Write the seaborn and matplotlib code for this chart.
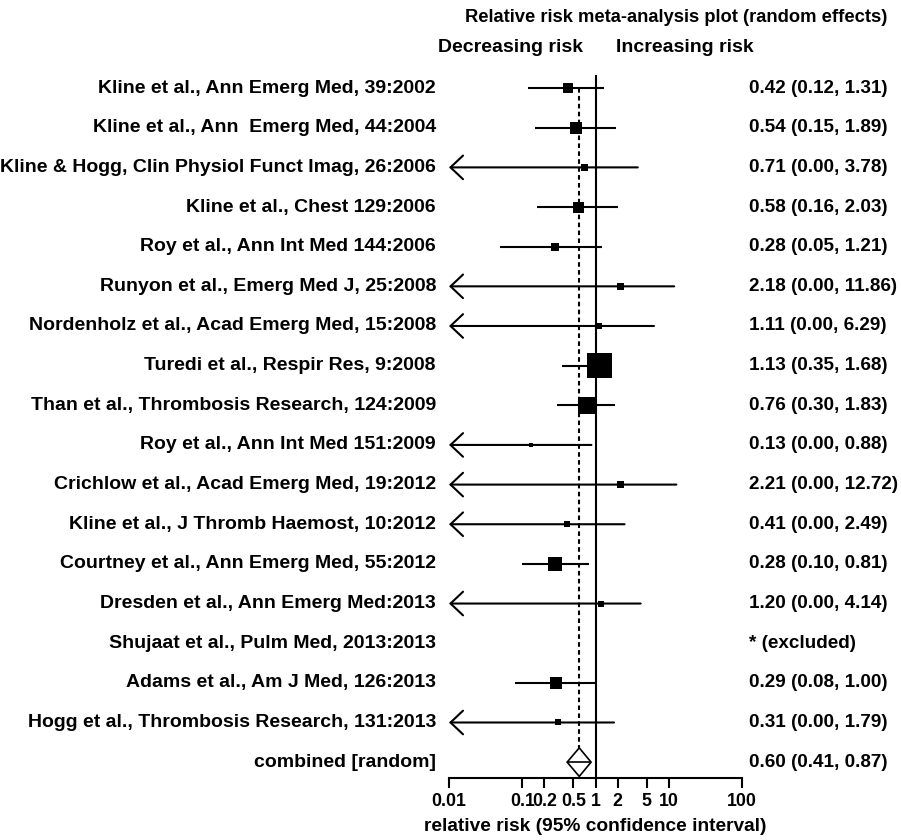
import numpy as np
import pandas as pd
import matplotlib
matplotlib.use("Agg")
import matplotlib.pyplot as plt
import seaborn as sns
from matplotlib.transforms import blended_transform_factory
from matplotlib.patches import Polygon
from matplotlib.ticker import NullLocator

# ---------------- data ----------------
studies = [
    "Kline et al., Ann Emerg Med, 39:2002",
    "Kline et al., Ann  Emerg Med, 44:2004",
    "Kline & Hogg, Clin Physiol Funct Imag, 26:2006",
    "Kline et al., Chest 129:2006",
    "Roy et al., Ann Int Med 144:2006",
    "Runyon et al., Emerg Med J, 25:2008",
    "Nordenholz et al., Acad Emerg Med, 15:2008",
    "Turedi et al., Respir Res, 9:2008",
    "Than et al., Thrombosis Research, 124:2009",
    "Roy et al., Ann Int Med 151:2009",
    "Crichlow et al., Acad Emerg Med, 19:2012",
    "Kline et al., J Thromb Haemost, 10:2012",
    "Courtney et al., Ann Emerg Med, 55:2012",
    "Dresden et al., Ann Emerg Med:2013",
    "Shujaat et al., Pulm Med, 2013:2013",
    "Adams et al., Am J Med, 126:2013",
    "Hogg et al., Thrombosis Research, 131:2013",
]
rr = [0.42, 0.54, 0.71, 0.58, 0.28, 2.18, 1.11, 1.13, 0.76, 0.13, 2.21, 0.41,
      0.28, 1.20, np.nan, 0.29, 0.31]
ci_low = [0.12, 0.15, 0.00, 0.16, 0.05, 0.00, 0.00, 0.35, 0.30, 0.00, 0.00,
          0.00, 0.10, 0.00, np.nan, 0.08, 0.00]
ci_high = [1.31, 1.89, 3.78, 2.03, 1.21, 11.86, 6.29, 1.68, 1.83, 0.88, 12.72,
           2.49, 0.81, 4.14, np.nan, 1.00, 1.79]
# relative study weight (drives the box size)
weights = [10, 12, 7, 11, 8, 7, 6, 25, 17, 4, 7, 6, 14, 6, np.nan, 12, 6]

combined_label = "combined [random]"
combined_rr = 0.60
combined_low = 0.41
combined_high = 0.87

tick_values = [0.01, 0.1, 0.2, 0.5, 1, 2, 5, 10, 100]
tick_labels = ["0.01", "0.1", "0.2", "0.5", "1", "2", "5", "10", "100"]

title = "Relative risk meta-analysis plot (random effects)"
left_header = "Decreasing risk"
right_header = "Increasing risk"
xlabel = "relative risk (95% confidence interval)"

# ---------------- styling ----------------
sns.set_theme(style="white")
plt.rcParams["font.family"] = ["Liberation Sans", "DejaVu Sans"]
plt.rcParams["font.weight"] = "bold"

FS_LAB = 14.0
FS_VAL = 13.6
FS_TICK = 12.8
FS_TITLE = 13.2
FS_HEAD = 14.0
FS_XLAB = 13.8
LW = 1.5
W, H = 901, 840

df = pd.DataFrame({"study": studies, "rr": rr, "low": ci_low,
                   "high": ci_high, "weight": weights})
df["row"] = np.arange(len(df))
combined_row = len(df)

fig = plt.figure(figsize=(W / 100, H / 100), dpi=100)
ax = fig.add_axes([449 / W, 62 / H, 293 / W, 703 / H])
ax.set_xscale("log")
xmin, xmax = tick_values[0], tick_values[-1]
ax.set_xlim(xmin, xmax)
ax.set_ylim(combined_row + 0.40, -0.33)

# reference line at 1
ax.axvline(1, color="black", lw=LW, zorder=2)

# dashed line at combined estimate
diamond_h = 0.36
ax.plot([combined_rr, combined_rr], [0, combined_row - diamond_h],
        color="black", lw=LW, ls=(0, (2.2, 1.6)), zorder=2)

valid = df.dropna(subset=["rr"])
# confidence intervals
for _, r in valid.iterrows():
    if r["low"] <= 0 or r["low"] < xmin:
        ax.annotate("", xy=(xmin, r["row"]), xytext=(r["high"], r["row"]),
                    arrowprops=dict(arrowstyle="->,head_length=0.9,head_width=0.85",
                                    lw=LW, color="black", shrinkA=0, shrinkB=0,
                                    mutation_scale=10),
                    annotation_clip=False, zorder=3)
    else:
        ax.hlines(r["row"], r["low"], r["high"], color="black", lw=LW, zorder=3)

# boxes
sizes = (valid["weight"].to_numpy() * 0.72) ** 2
sns.scatterplot(data=valid, x="rr", y="row", marker="s", s=sizes,
                color="black", linewidth=0, ax=ax, legend=False, zorder=4)

# combined diamond
diamond = Polygon([(combined_low, combined_row),
                   (combined_rr, combined_row - diamond_h),
                   (combined_high, combined_row),
                   (combined_rr, combined_row + diamond_h)],
                  closed=True, facecolor="white", edgecolor="black", lw=1.2,
                  zorder=4)
ax.add_patch(diamond)
ax.hlines(combined_row, combined_low, combined_high, color="black", lw=1.2,
          zorder=5)

# axes cosmetics
for side in ["top", "left", "right"]:
    ax.spines[side].set_visible(False)
ax.spines["bottom"].set_color("black")
ax.spines["bottom"].set_linewidth(LW)
ax.set_xticks(tick_values)
ax.set_xticklabels(tick_labels)
ax.xaxis.set_minor_locator(NullLocator())
ax.set_yticks([])
ax.tick_params(axis="x", direction="out", length=7.5, width=LW,
               colors="black", labelsize=FS_TICK, pad=3, bottom=True)
ax.set_xlabel(xlabel, fontsize=FS_XLAB, fontweight="bold", labelpad=6,
              color="black")
ax.grid(False)
ax.set_ylabel("")

# left labels and right values
trans = blended_transform_factory(fig.transFigure, ax.transData)
for _, r in df.iterrows():
    ax.text(436 / W, r["row"], r["study"], transform=trans, ha="right",
            va="center", fontsize=FS_LAB, fontweight="bold", color="black",
            clip_on=False)
    if np.isnan(r["rr"]):
        txt = "* (excluded)"
    else:
        txt = f"{r['rr']:.2f} ({r['low']:.2f}, {r['high']:.2f})"
    ax.text(749 / W, r["row"], txt, transform=trans, ha="left", va="center",
            fontsize=FS_VAL, fontweight="bold", color="black", clip_on=False)

ax.text(436 / W, combined_row, combined_label, transform=trans, ha="right",
        va="center", fontsize=FS_LAB, fontweight="bold", color="black")
ax.text(749 / W, combined_row,
        f"{combined_rr:.2f} ({combined_low:.2f}, {combined_high:.2f})",
        transform=trans, ha="left", va="center", fontsize=FS_VAL,
        fontweight="bold", color="black")

fig.text(676 / W, 1 - 17 / H, title, ha="center", va="center",
         fontsize=FS_TITLE, fontweight="bold", color="black")
fig.text(583 / W, 1 - 47 / H, left_header, ha="right", va="center",
         fontsize=FS_HEAD, fontweight="bold", color="black")
fig.text(616 / W, 1 - 47 / H, right_header, ha="left", va="center",
         fontsize=FS_HEAD, fontweight="bold", color="black")

fig.savefig("out.png", dpi=100, facecolor="white")
